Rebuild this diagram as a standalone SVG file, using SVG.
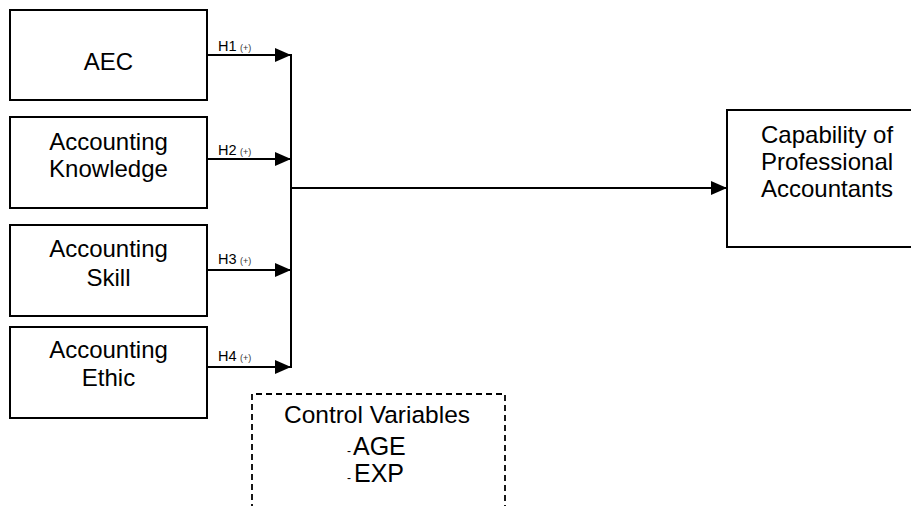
<svg xmlns="http://www.w3.org/2000/svg" width="911" height="506" viewBox="0 0 911 506">
<style>
.box{fill:#fff;stroke:#000;stroke-width:2}
.dash{fill:none;stroke:#000;stroke-width:1.8;stroke-dasharray:6,4}
.t{font-family:"Liberation Sans",Arial,sans-serif;font-size:24px;fill:#000}
.cv{font-size:24.5px}
.big{font-size:25px}
.h{font-family:"Liberation Sans",Arial,sans-serif;font-size:14.5px;fill:#000}
.p{font-family:"Liberation Sans",Arial,sans-serif;font-size:9px;fill:#333}
.s{font-family:"Liberation Sans",Arial,sans-serif;font-size:12px;fill:#000}
.c{fill:none;stroke:#000;stroke-width:2}
</style>
<defs>
<marker id="arr" markerUnits="userSpaceOnUse" markerWidth="16" markerHeight="14" refX="16" refY="7" orient="auto">
<path d="M0,0 L16,7 L0,14 z" fill="#000"/>
</marker>
</defs>
<g id="aec"><rect class="box" x="10" y="10" width="197" height="90"/><text class="t" x="108.5" y="70" text-anchor="middle">AEC</text></g>
<g id="knowledge"><rect class="box" x="10" y="117" width="197" height="91"/><text class="t" x="108.5" y="150" text-anchor="middle">Accounting</text><text class="t" x="108.5" y="177" text-anchor="middle">Knowledge</text></g>
<g id="skill"><rect class="box" x="10" y="225" width="197" height="91"/><text class="t" x="108.5" y="257" text-anchor="middle">Accounting</text><text class="t" x="108.5" y="286" text-anchor="middle">Skill</text></g>
<g id="ethic"><rect class="box" x="10" y="327" width="197" height="91"/><text class="t" x="108.5" y="358" text-anchor="middle">Accounting</text><text class="t" x="108.5" y="386" text-anchor="middle">Ethic</text></g>
<g id="capability"><rect class="box" x="727" y="110" width="190" height="137"/><text class="t" x="761" y="143">Capability of</text><text class="t" x="761" y="170">Professional</text><text class="t" x="761" y="197">Accountants</text></g>
<g id="control"><path class="dash" d="M252,510 L252,394 L505,394 L505,510"/><text class="t cv" x="377" y="423" text-anchor="middle">Control Variables</text><text class="s" x="351" y="455" text-anchor="end">-</text><text class="t big" x="353" y="455">AGE</text><text class="s" x="351" y="482" text-anchor="end">-</text><text class="t big" x="354" y="482">EXP</text></g>
<g id="connectors">
<line class="c" x1="207" y1="55" x2="291" y2="55" marker-end="url(#arr)"/>
<line class="c" x1="207" y1="159" x2="291" y2="159" marker-end="url(#arr)"/>
<line class="c" x1="207" y1="270" x2="291" y2="270" marker-end="url(#arr)"/>
<line class="c" x1="207" y1="367" x2="291" y2="367" marker-end="url(#arr)"/>
<line class="c" x1="291" y1="54" x2="291" y2="368"/>
<line class="c" x1="291" y1="188" x2="727" y2="188" marker-end="url(#arr)"/>
<text class="h" x="218" y="51">H1</text><text class="p" x="240" y="51">(+)</text>
<text class="h" x="218" y="155">H2</text><text class="p" x="240" y="155">(+)</text>
<text class="h" x="218" y="264">H3</text><text class="p" x="240" y="264">(+)</text>
<text class="h" x="218" y="361">H4</text><text class="p" x="240" y="361">(+)</text>
</g>
</svg>
